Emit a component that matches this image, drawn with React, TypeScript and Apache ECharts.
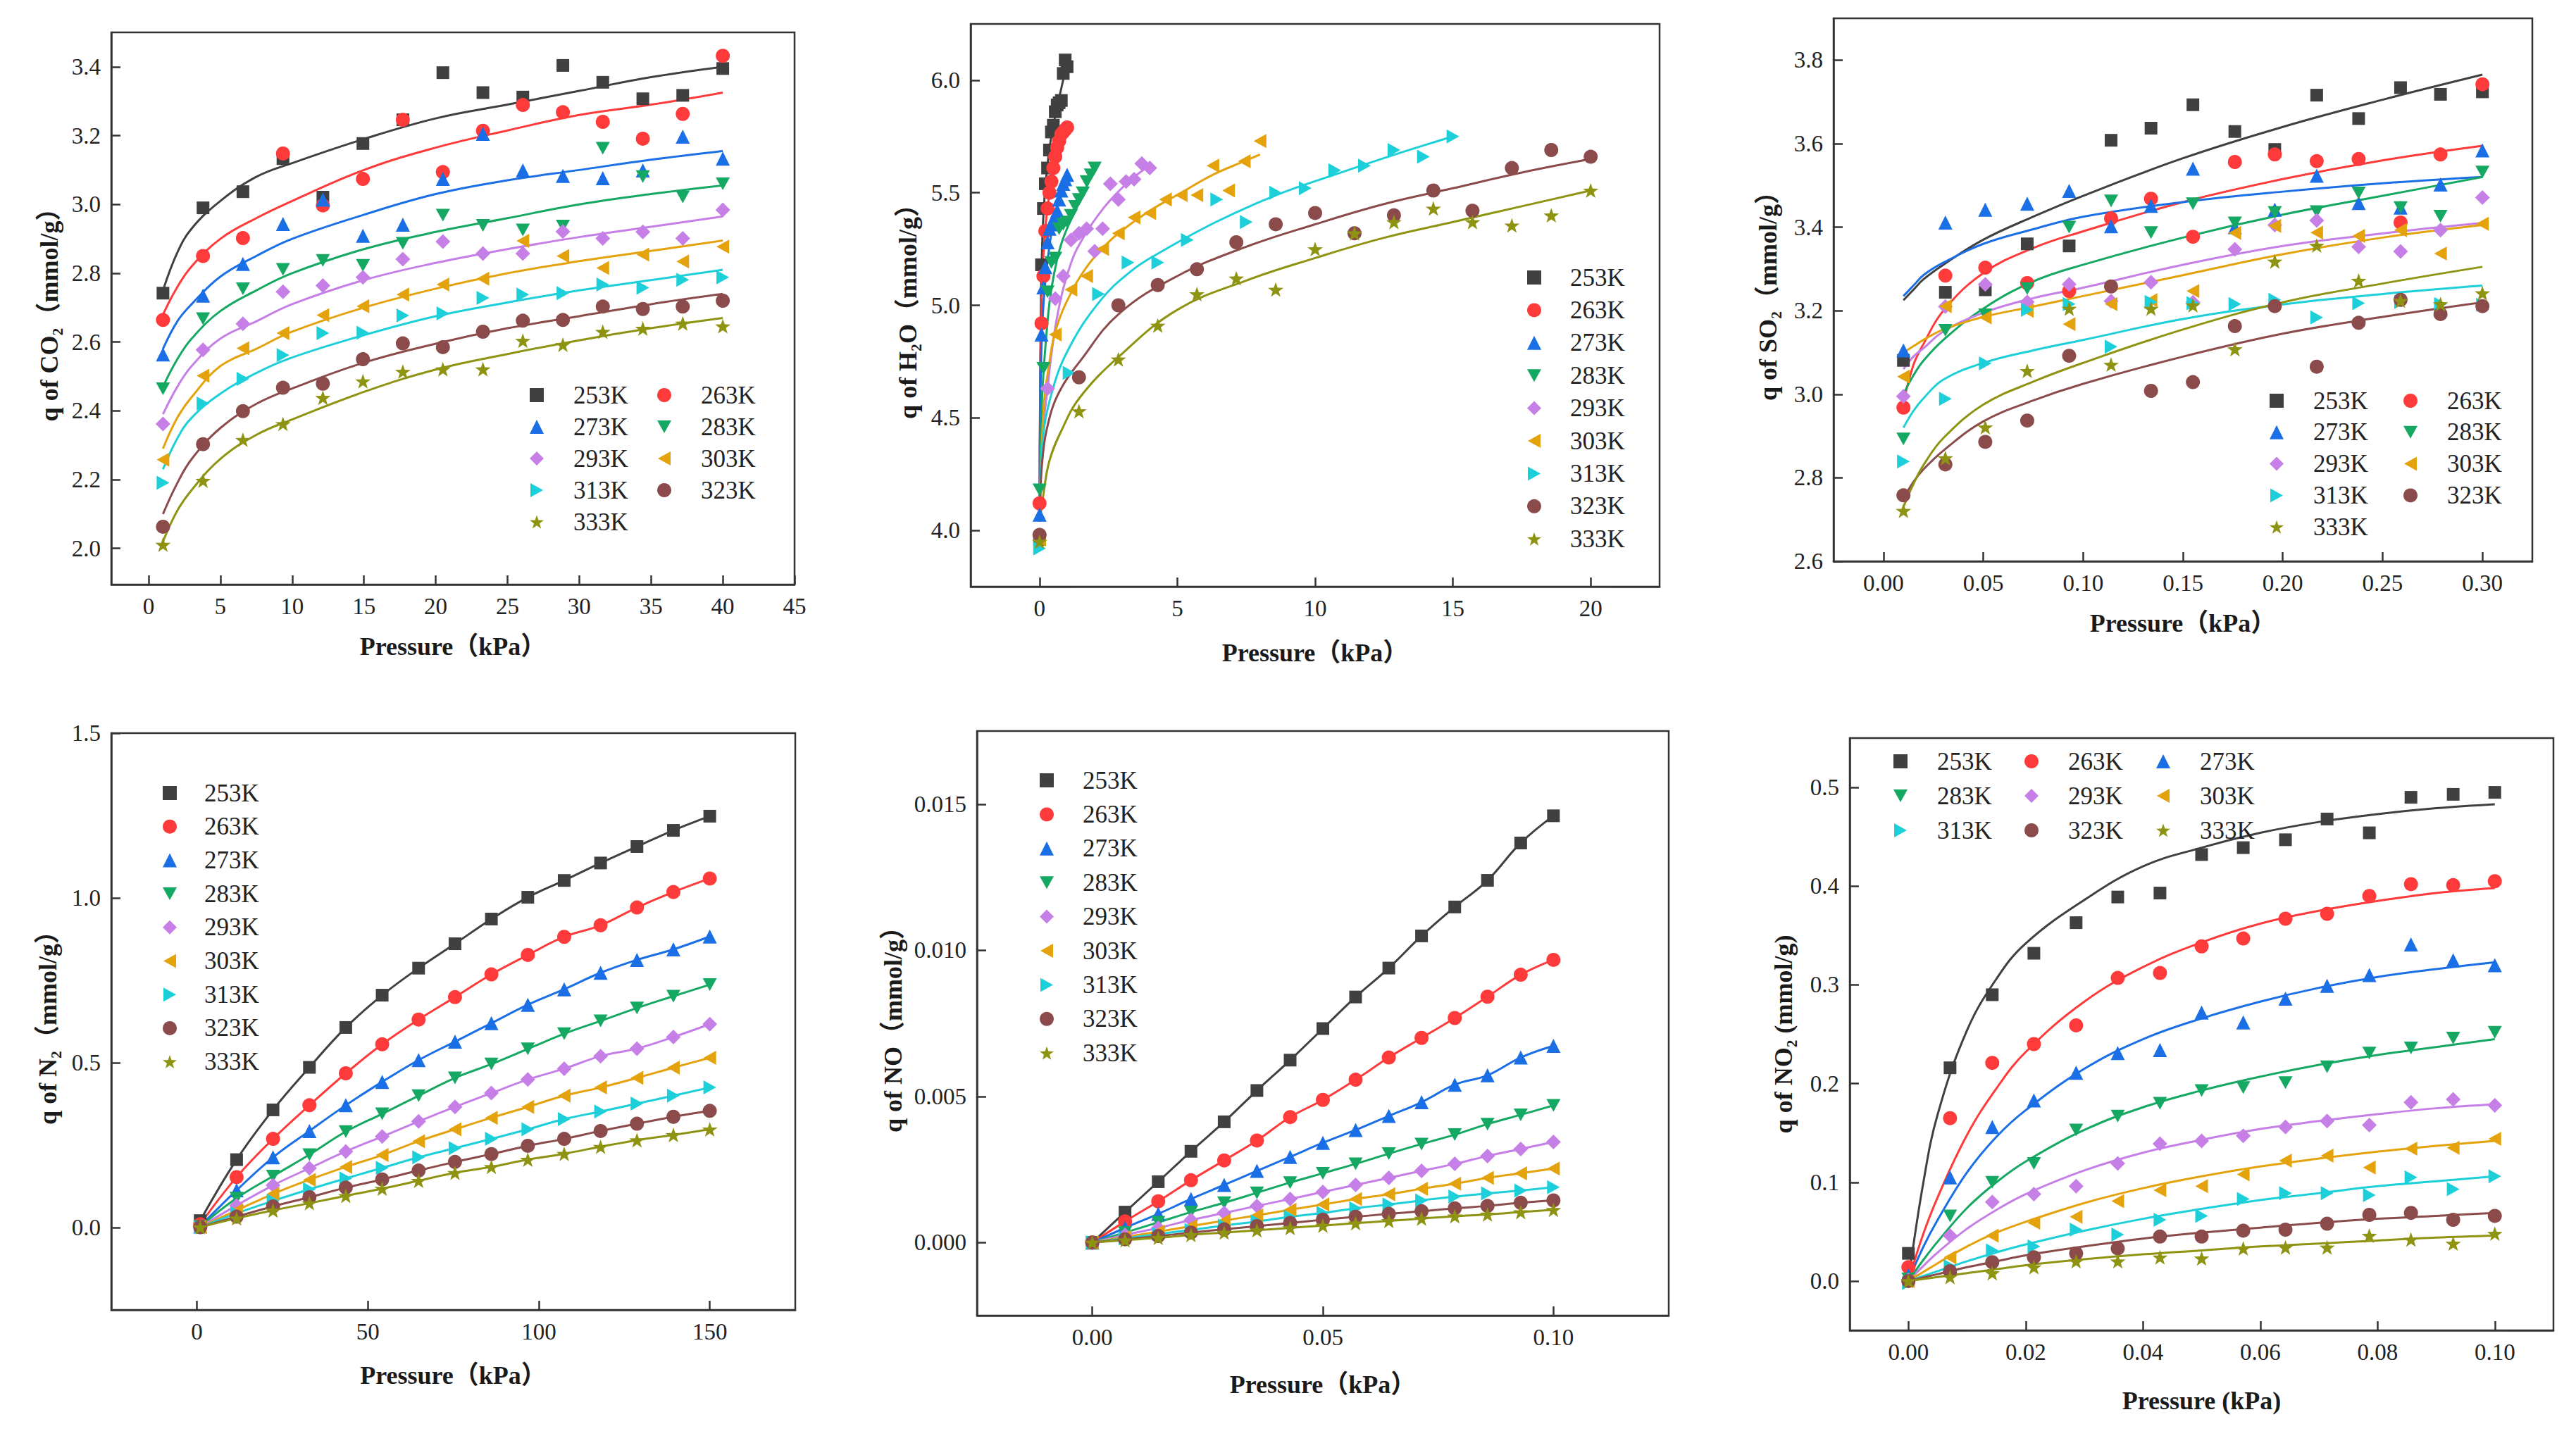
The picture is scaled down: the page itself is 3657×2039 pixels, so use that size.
import React, { useEffect, useRef } from 'react';
import * as echarts from 'echarts';

// ---------------- shared ----------------
const TEMPS = ['253K', '263K', '273K', '283K', '293K', '303K', '313K', '323K', '333K'];

// ---------------- CO2 ----------------
const co2Pressure = [1, 3.79, 6.57, 9.36, 12.14, 14.93, 17.71, 20.5, 23.29, 26.07, 28.86, 31.64, 34.43, 37.21, 40];
const co2Uptake = [
  [2.742, 2.99, 3.037, 3.133, 3.021, 3.177, 3.246, 3.383, 3.325, 3.312, 3.404, 3.355, 3.307, 3.317, 3.395],
  [2.664, 2.85, 2.902, 3.148, 2.997, 3.074, 3.246, 3.094, 3.214, 3.289, 3.268, 3.24, 3.191, 3.263, 3.432],
  [2.564, 2.735, 2.827, 2.943, 3.014, 2.909, 2.941, 3.074, 3.205, 3.099, 3.083, 3.076, 3.099, 3.197, 3.133],
  [2.464, 2.668, 2.755, 2.811, 2.837, 2.823, 2.887, 2.969, 2.939, 2.926, 2.937, 3.163, 3.081, 3.022, 3.06],
  [2.362, 2.577, 2.653, 2.746, 2.764, 2.788, 2.841, 2.892, 2.857, 2.857, 2.921, 2.901, 2.92, 2.901, 2.984],
  [2.258, 2.502, 2.582, 2.626, 2.678, 2.704, 2.738, 2.767, 2.784, 2.894, 2.85, 2.815, 2.854, 2.834, 2.877],
  [2.191, 2.421, 2.493, 2.562, 2.626, 2.627, 2.677, 2.683, 2.728, 2.738, 2.742, 2.767, 2.758, 2.781, 2.788],
  [2.063, 2.303, 2.399, 2.467, 2.479, 2.55, 2.596, 2.585, 2.63, 2.662, 2.664, 2.703, 2.696, 2.703, 2.72],
  [2.011, 2.197, 2.316, 2.362, 2.438, 2.486, 2.514, 2.521, 2.521, 2.604, 2.592, 2.63, 2.639, 2.654, 2.646],
];
const co2FitPressure = [1, 2, 3, 5, 7.5, 10, 15, 20, 25, 30, 35, 40];
const co2FitUptake = [
  [2.75, 2.86, 2.93, 3.01, 3.08, 3.12, 3.19, 3.25, 3.29, 3.33, 3.37, 3.4],
  [2.68, 2.76, 2.82, 2.9, 2.96, 3.01, 3.1, 3.165, 3.215, 3.26, 3.29, 3.325],
  [2.58, 2.66, 2.71, 2.79, 2.85, 2.9, 2.97, 3.03, 3.07, 3.1, 3.13, 3.155],
  [2.47, 2.55, 2.61, 2.69, 2.75, 2.8, 2.87, 2.92, 2.96, 3.0, 3.03, 3.055],
  [2.39, 2.47, 2.53, 2.61, 2.66, 2.71, 2.78, 2.83, 2.87, 2.905, 2.935, 2.965],
  [2.29, 2.38, 2.44, 2.53, 2.58, 2.63, 2.7, 2.755, 2.8, 2.835, 2.865, 2.895],
  [2.23, 2.32, 2.38, 2.45, 2.51, 2.555, 2.62, 2.675, 2.715, 2.75, 2.78, 2.81],
  [2.1, 2.19, 2.26, 2.35, 2.42, 2.465, 2.54, 2.595, 2.64, 2.675, 2.71, 2.74],
  [2.02, 2.11, 2.17, 2.26, 2.33, 2.375, 2.455, 2.52, 2.565, 2.605, 2.64, 2.67],
];
const co2XTicks = [0, 5, 10, 15, 20, 25, 30, 35, 40, 45];
const co2YTicks = [2.0, 2.2, 2.4, 2.6, 2.8, 3.0, 3.2, 3.4];

// ---------------- H2O ----------------
const h2oPressure = [
  [0, 0.07, 0.14, 0.21, 0.29, 0.36, 0.43, 0.5, 0.57, 0.64, 0.71, 0.79, 0.86, 0.93, 1.0],
  [0, 0.07, 0.14, 0.21, 0.29, 0.36, 0.43, 0.5, 0.57, 0.64, 0.71, 0.79, 0.86, 0.93, 1.0],
  [0, 0.07, 0.14, 0.21, 0.29, 0.36, 0.43, 0.5, 0.57, 0.64, 0.71, 0.79, 0.86, 0.93, 1.0],
  [0, 0.14, 0.29, 0.43, 0.57, 0.71, 0.86, 1.0, 1.14, 1.29, 1.43, 1.57, 1.71, 1.86, 2.0],
  [0, 0.29, 0.57, 0.86, 1.14, 1.43, 1.71, 2.0, 2.29, 2.57, 2.86, 3.14, 3.43, 3.71, 4.0],
  [0, 0.57, 1.14, 1.71, 2.29, 2.86, 3.43, 4.0, 4.57, 5.14, 5.71, 6.29, 6.86, 7.43, 8.0],
  [0, 1.07, 2.14, 3.21, 4.29, 5.36, 6.43, 7.5, 8.57, 9.64, 10.71, 11.79, 12.86, 13.93, 15],
  [0, 1.43, 2.86, 4.29, 5.71, 7.14, 8.57, 10, 11.43, 12.86, 14.29, 15.71, 17.14, 18.57, 20],
  [0, 1.43, 2.86, 4.29, 5.71, 7.14, 8.57, 10, 11.43, 12.86, 14.29, 15.71, 17.14, 18.57, 20],
];
const h2oUptake = [
  [3.96, 5.18, 5.43, 5.54, 5.61, 5.69, 5.77, 5.8, 5.86, 5.89, 5.9, 5.91, 6.03, 6.09, 6.06],
  [4.12, 4.92, 5.13, 5.33, 5.43, 5.5, 5.55, 5.61, 5.66, 5.7, 5.73, 5.76, 5.77, 5.78, 5.79],
  [4.07, 4.87, 5.08, 5.17, 5.28, 5.34, 5.36, 5.38, 5.4, 5.42, 5.47, 5.51, 5.54, 5.56, 5.58],
  [4.18, 4.72, 5.06, 5.19, 5.21, 5.34, 5.36, 5.37, 5.4, 5.44, 5.47, 5.5, 5.55, 5.58, 5.61],
  [3.98, 4.63, 5.03, 5.13, 5.29, 5.32, 5.34, 5.24, 5.34, 5.54, 5.47, 5.55, 5.56, 5.63, 5.61],
  [3.96, 4.87, 5.07, 5.13, 5.25, 5.32, 5.39, 5.41, 5.47, 5.49, 5.49, 5.62, 5.51, 5.64, 5.73],
  [3.92, 4.7, 5.05, 5.19, 5.19, 5.29, 5.47, 5.37, 5.5, 5.52, 5.6, 5.62, 5.69, 5.66, 5.75],
  [3.98, 4.68, 5.0, 5.09, 5.16, 5.28, 5.36, 5.41, 5.32, 5.4, 5.51, 5.42, 5.61, 5.69, 5.66],
  [3.95, 4.53, 4.76, 4.91, 5.05, 5.12, 5.07, 5.25, 5.32, 5.37, 5.43, 5.37, 5.355, 5.4, 5.51],
];
const h2oFitPressure = [
  [0.003, 0.015, 0.04, 0.07, 0.14, 0.25, 0.4, 0.6, 0.8, 1.0],
  [0.003, 0.015, 0.04, 0.1, 0.2, 0.35, 0.55, 0.8, 1.0],
  [0.003, 0.02, 0.08, 0.19, 0.44, 0.7, 1.0],
  [0.005, 0.03, 0.1, 0.27, 0.44, 0.78, 1.29, 1.6, 2.0],
  [0.01, 0.1, 0.27, 0.61, 1.12, 1.63, 2.31, 2.9, 3.43, 4.0],
  [0.01, 0.14, 0.36, 0.61, 1.16, 1.71, 2.26, 2.86, 4.0, 5.14, 6.29, 7.43, 8.0],
  [0.01, 0.1, 0.44, 1.07, 2.2, 3.3, 4.3, 6.4, 8.6, 10.7, 12.9, 15],
  [0.01, 0.1, 0.36, 0.78, 1.46, 2.86, 5, 7.5, 10, 12.5, 15, 17.5, 20],
  [0.01, 0.14, 0.36, 0.78, 1.46, 2.86, 5, 7.5, 10, 12.5, 15, 17.5, 20],
];
const h2oFitUptake = [
  [4.04, 4.5, 4.9, 5.15, 5.4, 5.58, 5.73, 5.86, 5.97, 6.08],
  [4.04, 4.45, 4.8, 5.12, 5.33, 5.49, 5.62, 5.72, 5.79],
  [4.04, 4.5, 4.85, 5.08, 5.33, 5.46, 5.58],
  [4.04, 4.3, 4.61, 4.9, 5.08, 5.27, 5.42, 5.5, 5.6],
  [4.04, 4.4, 4.61, 4.93, 5.18, 5.31, 5.43, 5.51, 5.57, 5.62],
  [4.04, 4.53, 4.75, 4.9, 5.06, 5.17, 5.25, 5.32, 5.42, 5.5, 5.58, 5.64, 5.67],
  [4.04, 4.38, 4.61, 4.81, 5.02, 5.15, 5.23, 5.37, 5.49, 5.58, 5.67, 5.75],
  [4.04, 4.31, 4.5, 4.63, 4.75, 4.96, 5.13, 5.26, 5.36, 5.45, 5.52, 5.59, 5.65],
  [4.04, 4.16, 4.31, 4.44, 4.59, 4.77, 4.98, 5.11, 5.21, 5.3, 5.37, 5.44, 5.51],
];
const h2oXTicks = [0, 5, 10, 15, 20];
const h2oYTicks = [4.0, 4.5, 5.0, 5.5, 6.0];

// ---------------- SO2 ----------------
const so2Pressure = [0.01, 0.031, 0.051, 0.072, 0.093, 0.114, 0.134, 0.155, 0.176, 0.196, 0.217, 0.238, 0.259, 0.279, 0.3];
const so2Uptake = [
  [3.081, 3.244, 3.25, 3.36, 3.355, 3.608, 3.637, 3.693, 3.629, 3.586, 3.716, 3.66, 3.734, 3.718, 3.724],
  [2.968, 3.284, 3.303, 3.266, 3.247, 3.421, 3.468, 3.377, 3.556, 3.574, 3.558, 3.563, 3.411, 3.574, 3.742],
  [3.105, 3.411, 3.442, 3.456, 3.487, 3.402, 3.451, 3.54, 3.4, 3.442, 3.523, 3.458, 3.447, 3.502, 3.584],
  [2.893, 3.153, 3.19, 3.253, 3.4, 3.463, 3.387, 3.456, 3.41, 3.435, 3.437, 3.482, 3.447, 3.426, 3.532],
  [2.995, 3.21, 3.263, 3.221, 3.263, 3.223, 3.268, 3.22, 3.347, 3.405, 3.416, 3.353, 3.342, 3.393, 3.471],
  [3.042, 3.211, 3.184, 3.2, 3.168, 3.216, 3.225, 3.247, 3.386, 3.403, 3.387, 3.379, 3.393, 3.337, 3.408],
  [2.839, 2.989, 3.074, 3.202, 3.216, 3.114, 3.221, 3.218, 3.216, 3.226, 3.184, 3.218, 3.221, 3.216, 3.214],
  [2.758, 2.832, 2.886, 2.937, 3.092, 3.258, 3.008, 3.029, 3.163, 3.211, 3.066, 3.171, 3.226, 3.192, 3.211],
  [2.721, 2.847, 2.921, 3.056, 3.205, 3.071, 3.205, 3.213, 3.108, 3.318, 3.356, 3.272, 3.224, 3.216, 3.242],
];
const so2FitPressure = [0.01, 0.015, 0.02, 0.03, 0.05, 0.075, 0.1, 0.15, 0.2, 0.25, 0.3];
const so2FitUptake = [
  [3.225, 3.25, 3.275, 3.31, 3.37, 3.425, 3.475, 3.565, 3.64, 3.705, 3.765],
  [2.98, 3.07, 3.12, 3.2, 3.29, 3.35, 3.39, 3.46, 3.515, 3.56, 3.595],
  [3.235, 3.26, 3.285, 3.315, 3.36, 3.395, 3.425, 3.46, 3.485, 3.505, 3.52],
  [3.0, 3.045, 3.08, 3.13, 3.205, 3.27, 3.31, 3.375, 3.43, 3.475, 3.52],
  [3.06, 3.09, 3.11, 3.15, 3.195, 3.23, 3.255, 3.31, 3.355, 3.385, 3.41],
  [3.1, 3.115, 3.13, 3.155, 3.185, 3.21, 3.235, 3.285, 3.335, 3.375, 3.405],
  [2.92, 2.96, 2.99, 3.035, 3.075, 3.105, 3.13, 3.18, 3.215, 3.24, 3.26],
  [2.75, 2.79, 2.82, 2.865, 2.935, 2.985, 3.025, 3.09, 3.145, 3.185, 3.22],
  [2.73, 2.785, 2.83, 2.895, 2.975, 3.03, 3.075, 3.155, 3.22, 3.265, 3.305],
];
const so2XTicks = [0, 0.05, 0.1, 0.15, 0.2, 0.25, 0.3];
const so2YTicks = [2.6, 2.8, 3.0, 3.2, 3.4, 3.6, 3.8];

// ---------------- N2 ----------------
const n2Pressure = [1, 11.64, 22.29, 32.93, 43.57, 54.21, 64.86, 75.5, 86.14, 96.79, 107.43, 118.07, 128.71, 139.36, 150];
const n2Uptake = [
  [0.021, 0.206, 0.357, 0.486, 0.607, 0.705, 0.787, 0.861, 0.936, 1.002, 1.053, 1.106, 1.156, 1.205, 1.248],
  [0.01, 0.153, 0.269, 0.371, 0.468, 0.556, 0.631, 0.699, 0.768, 0.827, 0.882, 0.917, 0.971, 1.018, 1.059],
  [0.004, 0.113, 0.213, 0.293, 0.371, 0.442, 0.508, 0.564, 0.62, 0.676, 0.723, 0.773, 0.812, 0.844, 0.883],
  [0.003, 0.089, 0.156, 0.221, 0.291, 0.345, 0.4, 0.454, 0.496, 0.542, 0.588, 0.627, 0.666, 0.702, 0.737],
  [0.002, 0.067, 0.128, 0.18, 0.231, 0.276, 0.322, 0.366, 0.408, 0.449, 0.482, 0.52, 0.543, 0.578, 0.617],
  [0.002, 0.052, 0.102, 0.145, 0.184, 0.22, 0.262, 0.298, 0.333, 0.366, 0.4, 0.425, 0.454, 0.485, 0.515],
  [0.001, 0.043, 0.081, 0.116, 0.149, 0.181, 0.213, 0.241, 0.269, 0.298, 0.329, 0.352, 0.376, 0.4, 0.425],
  [0.001, 0.033, 0.064, 0.092, 0.121, 0.146, 0.173, 0.199, 0.223, 0.248, 0.269, 0.293, 0.315, 0.336, 0.354],
  [0.001, 0.028, 0.052, 0.074, 0.096, 0.118, 0.142, 0.166, 0.184, 0.206, 0.224, 0.245, 0.265, 0.281, 0.298],
];
const n2XTicks = [0, 50, 100, 150];
const n2YTicks = [0.0, 0.5, 1.0, 1.5];

// ---------------- NO ----------------
const noPressure = [0, 0.0071, 0.0143, 0.0214, 0.0286, 0.0357, 0.0429, 0.05, 0.0571, 0.0643, 0.0714, 0.0786, 0.0857, 0.0929, 0.1];
const noUptake = [
  [0, 0.00104, 0.00208, 0.00312, 0.00413, 0.0052, 0.00624, 0.00732, 0.0084, 0.00939, 0.01049, 0.01148, 0.01239, 0.01367, 0.0146],
  [0, 0.00072, 0.00141, 0.00213, 0.00281, 0.00349, 0.00429, 0.00488, 0.00557, 0.00633, 0.007, 0.00768, 0.00841, 0.00916, 0.00967],
  [0, 0.0005, 0.00098, 0.00149, 0.00197, 0.00245, 0.00293, 0.00341, 0.00385, 0.00433, 0.0048, 0.0054, 0.00572, 0.00633, 0.00673],
  [0, 0.00034, 0.00069, 0.00104, 0.00136, 0.0017, 0.00205, 0.00237, 0.00269, 0.00304, 0.00337, 0.00369, 0.00405, 0.00437, 0.00469],
  [0, 0.00026, 0.0005, 0.00077, 0.00101, 0.00125, 0.00149, 0.00173, 0.00197, 0.00221, 0.00245, 0.00269, 0.00296, 0.0032, 0.00344],
  [0, 0.00019, 0.00037, 0.00056, 0.00075, 0.00093, 0.00112, 0.0013, 0.00149, 0.00165, 0.00184, 0.00201, 0.00221, 0.00237, 0.00253],
  [0, 0.00014, 0.00029, 0.00043, 0.00058, 0.00072, 0.00088, 0.00101, 0.00117, 0.0013, 0.00144, 0.00157, 0.00168, 0.00178, 0.00189],
  [0, 0.00011, 0.00022, 0.00034, 0.00045, 0.00056, 0.00067, 0.00078, 0.00088, 0.00098, 0.00107, 0.00117, 0.00125, 0.00136, 0.00144],
  [0, 0.00008, 0.00016, 0.00026, 0.00034, 0.00042, 0.0005, 0.00058, 0.00066, 0.00074, 0.00082, 0.0009, 0.00096, 0.00104, 0.00112],
];
const noXTicks = [0, 0.05, 0.1];
const noYTicks = [0, 0.005, 0.01, 0.015];

// ---------------- NO2 ----------------
const no2Pressure = [0, 0.0071, 0.0143, 0.0214, 0.0286, 0.0357, 0.0429, 0.05, 0.0571, 0.0643, 0.0714, 0.0786, 0.0857, 0.0929, 0.1];
const no2Uptake = [
  [0.028, 0.216, 0.29, 0.332, 0.363, 0.389, 0.393, 0.432, 0.439, 0.447, 0.468, 0.454, 0.49, 0.493, 0.495],
  [0.014, 0.165, 0.221, 0.24, 0.259, 0.307, 0.312, 0.339, 0.347, 0.367, 0.372, 0.39, 0.402, 0.401, 0.405],
  [0.006, 0.105, 0.156, 0.183, 0.211, 0.231, 0.234, 0.272, 0.262, 0.286, 0.299, 0.31, 0.341, 0.325, 0.32],
  [0.002, 0.066, 0.1, 0.119, 0.153, 0.167, 0.18, 0.193, 0.196, 0.201, 0.217, 0.231, 0.236, 0.246, 0.252],
  [0.001, 0.046, 0.08, 0.088, 0.096, 0.119, 0.139, 0.142, 0.147, 0.156, 0.162, 0.158, 0.181, 0.184, 0.178],
  [0.0, 0.024, 0.046, 0.059, 0.065, 0.081, 0.092, 0.096, 0.108, 0.122, 0.127, 0.115, 0.134, 0.135, 0.144],
  [-0.002, 0.015, 0.031, 0.035, 0.052, 0.047, 0.062, 0.066, 0.083, 0.089, 0.089, 0.087, 0.105, 0.093, 0.106],
  [0.0, 0.01, 0.019, 0.024, 0.028, 0.033, 0.045, 0.045, 0.051, 0.052, 0.058, 0.067, 0.069, 0.062, 0.066],
  [0.0, 0.004, 0.008, 0.014, 0.02, 0.02, 0.024, 0.023, 0.033, 0.034, 0.034, 0.046, 0.042, 0.038, 0.048],
];
const no2FitPressure = [0, 0.0025, 0.005, 0.01, 0.015, 0.02, 0.03, 0.04, 0.05, 0.06, 0.07, 0.08, 0.09, 0.1];
const no2FitUptake = [
  [0, 0.098, 0.169, 0.254, 0.306, 0.342, 0.386, 0.42, 0.439, 0.454, 0.465, 0.473, 0.479, 0.483],
  [0, 0.047, 0.085, 0.148, 0.195, 0.232, 0.283, 0.318, 0.343, 0.362, 0.375, 0.385, 0.393, 0.398],
  [0, 0.034, 0.062, 0.11, 0.146, 0.173, 0.215, 0.245, 0.266, 0.283, 0.297, 0.308, 0.316, 0.323],
  [0, 0.021, 0.04, 0.074, 0.1, 0.121, 0.153, 0.176, 0.193, 0.207, 0.219, 0.229, 0.237, 0.245],
  [0, 0.015, 0.029, 0.053, 0.072, 0.088, 0.112, 0.13, 0.143, 0.154, 0.162, 0.169, 0.175, 0.179],
  [0, 0.009, 0.018, 0.035, 0.049, 0.06, 0.079, 0.094, 0.106, 0.116, 0.124, 0.131, 0.137, 0.142],
  [0, 0.005, 0.01, 0.02, 0.029, 0.037, 0.051, 0.063, 0.073, 0.082, 0.089, 0.096, 0.101, 0.106],
  [0, 0.0035, 0.007, 0.014, 0.02, 0.026, 0.035, 0.043, 0.049, 0.054, 0.059, 0.063, 0.066, 0.069],
  [0, 0.002, 0.004, 0.008, 0.012, 0.016, 0.022, 0.027, 0.031, 0.035, 0.038, 0.041, 0.044, 0.046],
];
const no2XTicks = [0, 0.02, 0.04, 0.06, 0.08, 0.1];
const no2YTicks = [0, 0.1, 0.2, 0.3, 0.4, 0.5];

// ---------------- styles ----------------
const FONT = 'Liberation Serif, DejaVu Serif, Noto Sans CJK SC, serif';
const COLORS = ['#404040', '#ff3a3a', '#1a6fe6', '#15a862', '#c67fe6', '#e4a20c', '#1ccfd8', '#8c4b4b', '#8e9412'];
const SYMBOLS = [
  'rect',
  'circle',
  'triangle',
  'path://M0,0L20,0L10,18Z',
  'diamond',
  'path://M0,10L18,0L18,20Z',
  'path://M0,0L18,10L0,20Z',
  'circle',
  'path://M10,0L12.35,6.76L19.51,6.91L13.8,11.24L15.88,18.09L10,14L4.12,18.09L6.2,11.24L0.49,6.91L7.65,6.76Z',
];
const SYMBOL_SIZES = [18, 20, 20, 20, 21, 20, 20, 20, 22];

function zip(x: number[], y: number[]) {
  return x.map((v, i) => [v, y[i]]);
}

const AXIS_COLOR = '#333';

function makeAxis(
  dim: 'x' | 'y',
  gridIndex: number,
  min: number,
  max: number,
  ticks: number[],
  digits: number,
  name: string,
  nameGap: number
) {
  return {
    type: 'value',
    gridIndex,
    min,
    max,
    name,
    nameLocation: 'middle',
    nameGap,
    nameTextStyle: { fontFamily: FONT, fontSize: 36, fontWeight: 'bold', color: '#1a1a1a' },
    axisLine: { show: true, onZero: false, lineStyle: { color: AXIS_COLOR, width: 2.5 } },
    axisTick: { show: true, inside: true, length: 13, customValues: ticks, lineStyle: { color: AXIS_COLOR, width: 2.5 } },
    minorTick: { show: false },
    axisLabel: {
      customValues: ticks,
      formatter: (v: number) => Number(v).toFixed(digits),
      fontFamily: FONT,
      fontSize: 33,
      color: '#222',
      margin: dim === 'x' ? 14 : 15,
    },
    splitLine: { show: false },
  };
}

type PanelDef = {
  grid: { left: number; top: number; width: number; height: number };
  xr: [number, number];
  yr: [number, number];
  xt: number[];
  yt: number[];
  xd: number;
  yd: number;
  xname: string;
  yname: string;
  xgap: number;
  ygap: number;
  points: (i: number) => number[][];
  fit: (i: number) => number[][];
};

const panels: PanelDef[] = [
  {
    grid: { left: 158, top: 46, width: 970, height: 784 },
    xr: [-2.6, 45], yr: [1.895, 3.5], xt: co2XTicks, yt: co2YTicks, xd: 0, yd: 1,
    xname: 'Pressure（kPa）', yname: 'q of CO₂（mmol/g）', xgap: 70, ygap: 70,
    points: (i) => zip(co2Pressure, co2Uptake[i]),
    fit: (i) => zip(co2FitPressure, co2FitUptake[i]),
  },
  {
    grid: { left: 1378, top: 34, width: 978, height: 799 },
    xr: [-2.5, 22.5], yr: [3.75, 6.25], xt: h2oXTicks, yt: h2oYTicks, xd: 0, yd: 1,
    xname: 'Pressure（kPa）', yname: 'q of H₂O（mmol/g）', xgap: 76, ygap: 71,
    points: (i) => zip(h2oPressure[i], h2oUptake[i]),
    fit: (i) => zip(h2oFitPressure[i], h2oFitUptake[i]),
  },
  {
    grid: { left: 2603, top: 26, width: 992, height: 771 },
    xr: [-0.025, 0.325], yr: [2.6, 3.9], xt: so2XTicks, yt: so2YTicks, xd: 2, yd: 1,
    xname: 'Pressure（kPa）', yname: 'q of SO₂（mmol/g）', xgap: 70, ygap: 75,
    points: (i) => zip(so2Pressure, so2Uptake[i]),
    fit: (i) => zip(so2FitPressure, so2FitUptake[i]),
  },
  {
    grid: { left: 158, top: 1041, width: 971, height: 819 },
    xr: [-25, 175], yr: [-0.25, 1.5], xt: n2XTicks, yt: n2YTicks, xd: 0, yd: 1,
    xname: 'Pressure（kPa）', yname: 'q of N₂（mmol/g）', xgap: 75, ygap: 72,
    points: (i) => zip(n2Pressure, n2Uptake[i]),
    fit: (i) => zip(n2Pressure, n2Uptake[i]),
  },
  {
    grid: { left: 1387, top: 1038, width: 982, height: 830 },
    xr: [-0.025, 0.125], yr: [-0.0025, 0.0175], xt: noXTicks, yt: noYTicks, xd: 2, yd: 3,
    xname: 'Pressure（kPa）', yname: 'q of NO（mmol/g）', xgap: 80, ygap: 101,
    points: (i) => zip(noPressure, noUptake[i]),
    fit: (i) => zip(noPressure, noUptake[i]),
  },
  {
    grid: { left: 2626, top: 1048, width: 999, height: 841 },
    xr: [-0.01, 0.11], yr: [-0.05, 0.55], xt: no2XTicks, yt: no2YTicks, xd: 2, yd: 1,
    xname: 'Pressure (kPa)', yname: 'q of NO₂ (mmol/g)', xgap: 82, ygap: 76,
    points: (i) => zip(no2Pressure, no2Uptake[i]),
    fit: (i) => zip(no2FitPressure, no2FitUptake[i]),
  },
];

function makeLegend(left: number, top: number, idx: number[], gap: number, pad: number) {
  return {
    orient: 'vertical',
    left,
    top,
    padding: 0,
    itemGap: gap,
    itemWidth: 20,
    itemHeight: 20,
    selectedMode: false,
    data: idx.map((i) => TEMPS[i]),
    textStyle: { fontFamily: FONT, fontSize: 35, color: '#222', lineHeight: 36, padding: [0, 0, 0, pad] },
  };
}

const legends = [
  makeLegend(752, 543, [0, 2, 4, 6, 8], 9, 37),
  makeLegend(933, 543, [1, 3, 5, 7], 9, 37),
  makeLegend(2168, 376, [0, 1, 2, 3, 4, 5, 6, 7, 8], 10.4, 36),
  makeLegend(3222, 551, [0, 2, 4, 6, 8], 8.8, 37),
  makeLegend(3412, 551, [1, 3, 5, 7], 8.8, 37),
  makeLegend(231, 1108, [0, 1, 2, 3, 4, 5, 6, 7, 8], 11.7, 34),
  makeLegend(1476, 1090, [0, 1, 2, 3, 4, 5, 6, 7, 8], 12.4, 36),
  makeLegend(2688, 1063, [0, 3, 6], 13, 37),
  makeLegend(2874, 1063, [1, 4, 7], 13, 37),
  makeLegend(3061, 1063, [2, 5, 8], 13, 37),
];

function buildOption() {
  const grid: any[] = [];
  const xAxis: any[] = [];
  const yAxis: any[] = [];
  const series: any[] = [];
  panels.forEach((p, gi) => {
    grid.push({ ...p.grid, show: true, borderColor: AXIS_COLOR, borderWidth: 2.5, backgroundColor: 'transparent' });
    xAxis.push(makeAxis('x', gi, p.xr[0], p.xr[1], p.xt, p.xd, p.xname, p.xgap));
    yAxis.push(makeAxis('y', gi, p.yr[0], p.yr[1], p.yt, p.yd, p.yname, p.ygap));
    TEMPS.forEach((t, i) => {
      series.push({
        name: t + ' fit',
        type: 'line',
        xAxisIndex: gi,
        yAxisIndex: gi,
        data: p.fit(i),
        symbol: 'none',
        smooth: 0.4,
        silent: true,
        z: 2,
        lineStyle: { color: COLORS[i], width: 3 },
        itemStyle: { color: COLORS[i] },
      });
      series.push({
        name: t,
        type: 'scatter',
        xAxisIndex: gi,
        yAxisIndex: gi,
        data: p.points(i),
        symbol: SYMBOLS[i],
        symbolSize: SYMBOL_SIZES[i],
        symbolKeepAspect: true,
        z: 3,
        itemStyle: { color: COLORS[i], opacity: 1 },
      });
    });
  });
  return {
    animation: false,
    backgroundColor: '#ffffff',
    textStyle: { fontFamily: FONT },
    grid,
    xAxis,
    yAxis,
    legend: legends,
    series,
  };
}

export default function App() {
  const ref = useRef<HTMLDivElement>(null);
  useEffect(() => {
    document.body.style.margin = '0';
    const chart = echarts.init(ref.current as HTMLDivElement, null, { renderer: 'svg' });
    chart.setOption(buildOption() as any);
    return () => {
      chart.dispose();
    };
  }, []);
  return <div ref={ref} style={{ width: 3657, height: 2039, background: '#ffffff' }} />;
}
